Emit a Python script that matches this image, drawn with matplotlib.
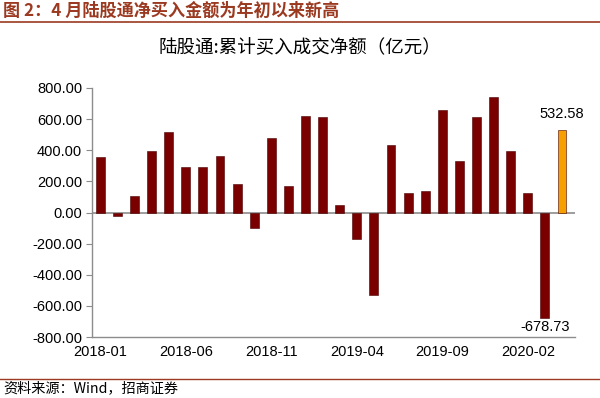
import numpy as np
import matplotlib
matplotlib.use('Agg')
import matplotlib.pyplot as plt

plt.rcParams['font.family'] = ['Liberation Sans', 'Noto Sans CJK SC', 'DejaVu Sans']

# 月份与陆股通净买入额（亿元）
months = ['2018-01', '2018-02', '2018-03', '2018-04', '2018-05', '2018-06',
          '2018-07', '2018-08', '2018-09', '2018-10', '2018-11', '2018-12',
          '2019-01', '2019-02', '2019-03', '2019-04', '2019-05', '2019-06',
          '2019-07', '2019-08', '2019-09', '2019-10', '2019-11', '2019-12',
          '2020-01', '2020-02', '2020-03', '2020-04']
net_buy = [358, -20, 103, 395, 517, 294, 294, 363, 183, -100, 480, 170,
           617, 613, 51, -172, -530, 435, 126, 139, 658, 332, 615, 740,
           394, 124, -678.73, 532.58]
label_ticks = ['2018-01', '2018-06', '2018-11', '2019-04', '2019-09', '2020-02']

dark_red = '#7a0000'
orange = '#f5a000'
brown = '#9b3a20'
grey = '#8c8c8c'

fig = plt.figure(figsize=(6.0, 3.98), dpi=100)
ax = fig.add_axes([0.153, 0.153, 0.805, 0.626])

x = np.arange(len(months))
colors = [dark_red] * (len(months) - 1) + [orange]
ax.bar(x, net_buy, width=0.52, color=colors, edgecolor='#4a0000', linewidth=0.4, zorder=3)

ax.axhline(0, color=grey, linewidth=1.2, zorder=2)
ax.set_ylim(-800, 800)
ax.set_xlim(-0.5, 27.75)
ax.set_yticks(np.arange(-800, 801, 200))
ax.yaxis.set_major_formatter(matplotlib.ticker.FormatStrFormatter('%.2f'))
ax.set_xticks([months.index(m) for m in label_ticks])
ax.set_xticklabels(label_ticks)
ax.tick_params(axis='y', labelsize=10.5, length=4, color=grey, pad=3)
ax.tick_params(axis='x', labelsize=10.5, length=0, pad=6)

for side in ['top', 'right']:
    ax.spines[side].set_visible(False)
for side in ['left', 'bottom']:
    ax.spines[side].set_color(grey)
    ax.spines[side].set_linewidth(1.0)

# 数据标签
ax.annotate(f'{net_buy[-1]:.2f}', (x[-1], net_buy[-1]), xytext=(0, 6),
            textcoords='offset points', ha='center', va='bottom', fontsize=10.5)
ax.annotate(f'{net_buy[-2]:.2f}', (x[-2], -800), xytext=(0, 2),
            textcoords='offset points', ha='center', va='bottom', fontsize=10.5)

# 标题与注释
fig.text(0.005, 0.974, '图 2：4 月陆股通净买入金额为年初以来新高', color=brown,
         fontsize=12.3, fontweight='bold', ha='left', va='center',
         family=['Noto Sans CJK SC', 'DejaVu Sans'])
fig.add_artist(plt.Line2D([0, 1], [0.944, 0.944], color=brown, linewidth=1.2))
fig.text(0.5, 0.88, '陆股通:累计买入成交净额（亿元）', fontsize=13.3, ha='center', va='center',
         family=['Noto Sans CJK SC', 'DejaVu Sans'])
fig.add_artist(plt.Line2D([0, 1], [0.048, 0.048], color=brown, linewidth=1.0))
fig.text(0.005, 0.025, '资料来源：Wind，招商证券', fontsize=10.2, ha='left', va='center',
         family=['Noto Sans CJK SC', 'DejaVu Sans'])

fig.savefig('out.png', dpi=100, facecolor='white')
